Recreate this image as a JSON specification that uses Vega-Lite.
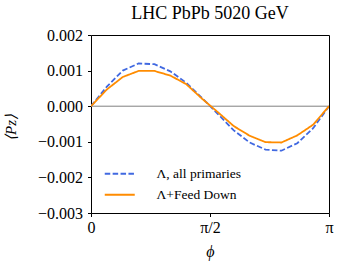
{
  "$schema": "https://vega.github.io/schema/vega-lite/v6.json",
  "width": 238,
  "height": 178,
  "autosize": "none",
  "padding": {"left": 91, "top": 35, "right": 15, "bottom": 56},
  "background": "white",
  "config": {
    "font": "Liberation Serif",
    "view": {"stroke": "black", "strokeWidth": 1},
    "axis": {
      "titleFont": "Liberation Serif",
      "titleFontStyle": "italic",
      "titleFontWeight": "normal",
      "titleColor": "black",
      "labelFont": "Liberation Serif",
      "labelFontSize": 16,
      "labelColor": "black",
      "labelFlush": false,
      "labelOverlap": false,
      "grid": false,
      "domain": false,
      "tickColor": "black",
      "tickSize": 3.5,
      "tickWidth": 1
    }
  },
  "title": {
    "text": "LHC PbPb 5020 GeV",
    "font": "Liberation Serif",
    "fontSize": 18,
    "fontWeight": "normal",
    "color": "black",
    "anchor": "middle",
    "offset": 4
  },
  "datasets": {
    "curves": [
      {"phi": 0.0, "P": 0.0, "series": "Λ, all primaries"},
      {"phi": 0.2094, "P": 0.00055, "series": "Λ, all primaries"},
      {"phi": 0.4189, "P": 0.00100, "series": "Λ, all primaries"},
      {"phi": 0.6283, "P": 0.00120, "series": "Λ, all primaries"},
      {"phi": 0.8378, "P": 0.00118, "series": "Λ, all primaries"},
      {"phi": 1.0472, "P": 0.00098, "series": "Λ, all primaries"},
      {"phi": 1.2566, "P": 0.00066, "series": "Λ, all primaries"},
      {"phi": 1.4661, "P": 0.00023, "series": "Λ, all primaries"},
      {"phi": 1.6755, "P": -0.00022, "series": "Λ, all primaries"},
      {"phi": 1.8850, "P": -0.00068, "series": "Λ, all primaries"},
      {"phi": 2.0944, "P": -0.00102, "series": "Λ, all primaries"},
      {"phi": 2.3038, "P": -0.00122, "series": "Λ, all primaries"},
      {"phi": 2.5133, "P": -0.00125, "series": "Λ, all primaries"},
      {"phi": 2.7227, "P": -0.00104, "series": "Λ, all primaries"},
      {"phi": 2.9322, "P": -0.00062, "series": "Λ, all primaries"},
      {"phi": 3.1416, "P": 0.0, "series": "Λ, all primaries"},
      {"phi": 0.0, "P": 0.0, "series": "Λ+Feed Down"},
      {"phi": 0.2094, "P": 0.00047, "series": "Λ+Feed Down"},
      {"phi": 0.4189, "P": 0.00082, "series": "Λ+Feed Down"},
      {"phi": 0.6283, "P": 0.00099, "series": "Λ+Feed Down"},
      {"phi": 0.8378, "P": 0.00099, "series": "Λ+Feed Down"},
      {"phi": 1.0472, "P": 0.00086, "series": "Λ+Feed Down"},
      {"phi": 1.2566, "P": 0.00062, "series": "Λ+Feed Down"},
      {"phi": 1.4661, "P": 0.00021, "series": "Λ+Feed Down"},
      {"phi": 1.6755, "P": -0.00017, "series": "Λ+Feed Down"},
      {"phi": 1.8850, "P": -0.00056, "series": "Λ+Feed Down"},
      {"phi": 2.0944, "P": -0.00083, "series": "Λ+Feed Down"},
      {"phi": 2.3038, "P": -0.00101, "series": "Λ+Feed Down"},
      {"phi": 2.5133, "P": -0.00102, "series": "Λ+Feed Down"},
      {"phi": 2.7227, "P": -0.00082, "series": "Λ+Feed Down"},
      {"phi": 2.9322, "P": -0.00052, "series": "Λ+Feed Down"},
      {"phi": 3.1416, "P": 0.0, "series": "Λ+Feed Down"}
    ],
    "zero": [{"y": 0}]
  },
  "layer": [
    {
      "data": {"name": "zero"},
      "mark": {"type": "rule", "color": "#808080", "strokeWidth": 1},
      "encoding": {
        "y": {
          "field": "y", "type": "quantitative",
          "scale": {"domain": [-0.003, 0.002], "nice": false, "zero": false},
          "axis": {
            "values": [-0.003, -0.002, -0.001, 0, 0.001, 0.002],
            "format": ".3f",
            "title": "⟨Pz⟩",
            "titleFontSize": 15,
            "titleX": -73,
            "titleY": 92,
            "labelPadding": 5
          }
        }
      }
    },
    {
      "data": {"name": "curves"},
      "mark": {"type": "line", "strokeWidth": 1.8, "clip": true},
      "encoding": {
        "x": {
          "field": "phi", "type": "quantitative",
          "scale": {"domain": [0, 3.1416], "nice": false, "zero": false},
          "axis": {
            "values": [0, 1.5708, 3.1416],
            "labelExpr": "datum.value < 0.1 ? '0' : (datum.value < 2 ? 'π/2' : 'π')",
            "title": "ϕ",
            "titleFontSize": 16,
            "titlePadding": 8,
            "labelPadding": 3
          }
        },
        "y": {
          "field": "P", "type": "quantitative",
          "scale": {"domain": [-0.003, 0.002], "nice": false, "zero": false},
          "axis": {
            "values": [-0.003, -0.002, -0.001, 0, 0.001, 0.002],
            "format": ".3f",
            "title": "⟨Pz⟩",
            "titleFontSize": 15,
            "titleX": -73,
            "titleY": 92,
            "labelPadding": 5
          }
        },
        "color": {
          "field": "series", "type": "nominal",
          "scale": {"domain": ["Λ, all primaries", "Λ+Feed Down"], "range": ["#4169E1", "#FF8C00"]},
          "legend": {
            "orient": "none",
            "legendX": 22,
            "legendY": 132,
            "title": null,
            "symbolType": "M-3,0H3",
            "symbolSize": 100,
            "symbolStrokeWidth": 1.8,
            "symbolFillColor": "transparent",
            "labelFont": "Liberation Serif",
            "labelFontSize": 13.5,
            "labelColor": "black",
            "labelOffset": 30,
            "rowPadding": 6
          }
        },
        "strokeDash": {
          "field": "series", "type": "nominal",
          "scale": {"domain": ["Λ, all primaries", "Λ+Feed Down"], "range": [[5.5, 2.4], [1, 0]]},
          "legend": null
        }
      }
    }
  ]
}
